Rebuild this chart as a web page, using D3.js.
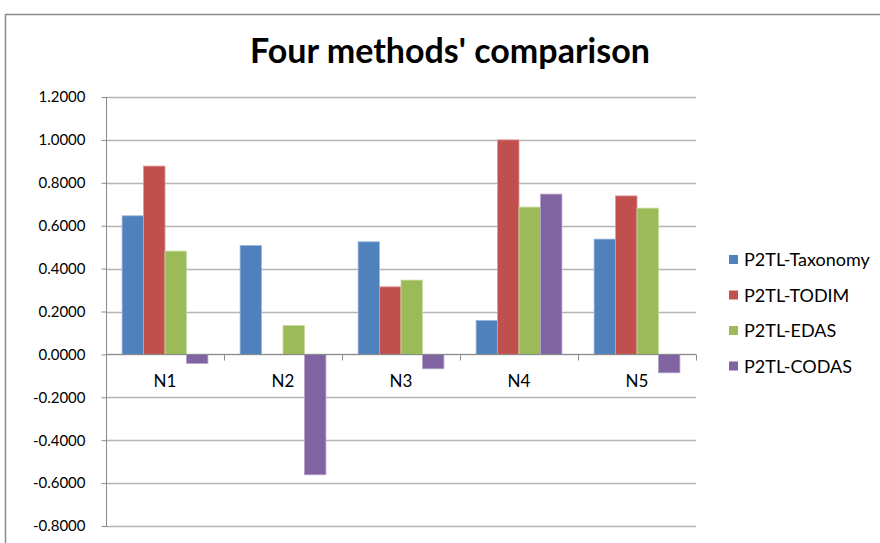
<!DOCTYPE html>
<html>
<head>
<meta charset="utf-8">
<script src="https://cdn.jsdelivr.net/npm/d3@7"></script>
<style>
  html, body { margin: 0; padding: 0; background: #fff; }
  svg { display: block; }
  text { font-family: Lato, "Open Sans", sans-serif; fill: #000; }
</style>
</head>
<body>
<script>
// Categories and series
const categories = ["N1", "N2", "N3", "N4", "N5"];
const seriesNames = ["P2TL-Taxonomy", "P2TL-TODIM", "P2TL-EDAS", "P2TL-CODAS"];
const taxonomy = [0.6462, 0.5081, 0.5250, 0.1585, 0.5375];
const todim    = [0.8780, 0.0000, 0.3150, 1.0000, 0.7390];
const edas     = [0.4816, 0.1352, 0.3464, 0.6868, 0.6820];
const codas    = [-0.0420, -0.5612, -0.0671, 0.7473, -0.0858];
const yTicks   = [-0.8, -0.6, -0.4, -0.2, 0, 0.2, 0.4, 0.6, 0.8, 1.0, 1.2];
const colors   = ["#4F81BD", "#C0504D", "#9BBB59", "#8064A2"];
const edges    = ["#9DB9DD", "#DE9A98", "#C7DBA0", "#B3A2C9"];

const seriesValues = [taxonomy, todim, edas, codas];

const W = 880, H = 543;
const plot = { left: 106, right: 696, top: 97, bottom: 526 };

const svg = d3.select("body").append("svg")
  .attr("width", W).attr("height", H);

// chart area frame
svg.append("rect")
  .attr("x", 5.5).attr("y", 14.5)
  .attr("width", W + 10).attr("height", H + 10)
  .attr("fill", "#fff").attr("stroke", "#8a8a8a").attr("stroke-width", 1.5);

svg.append("text")
  .attr("x", 450).attr("y", 63)
  .attr("text-anchor", "middle")
  .style("font-size", "34px").style("font-weight", "bold")
  .text("Four methods' comparison");

const y = d3.scaleLinear().domain([-0.8, 1.2]).range([plot.bottom, plot.top]);
const x0 = d3.scaleBand().domain(categories).range([plot.left, plot.right]).paddingInner(0).paddingOuter(0);
const bandW = x0.bandwidth();
const barW = bandW / 5.5;
const x1 = d3.scaleBand().domain(d3.range(seriesNames.length))
  .range([barW * 0.75, barW * 0.75 + barW * 4]);

// horizontal gridlines
svg.append("g").selectAll("line").data(yTicks).join("line")
  .attr("x1", plot.left).attr("x2", plot.right)
  .attr("y1", d => Math.round(y(d)) + 0.5).attr("y2", d => Math.round(y(d)) + 0.5)
  .attr("stroke", "#b4b4b4").attr("stroke-width", 1.5);

// y axis, hyphen-minus for negatives
const fmt = d3.format(".4f");
const yAxis = d3.axisLeft(y).tickValues(yTicks).tickSize(5).tickPadding(16)
  .tickFormat(d => fmt(d).replace("\u2212", "-"));
const gy = svg.append("g").attr("transform", `translate(${plot.left + 0.5},0)`).call(yAxis);
gy.select(".domain").attr("stroke", "#8a8a8a").attr("d", `M0,${plot.top}V${plot.bottom}`);
gy.selectAll(".tick line").attr("stroke", "#8a8a8a");
gy.selectAll(".tick text").style("font-size", "15px").style("font-family", "Lato, sans-serif")
  .attr("fill", "#000");

// bars
const groups = svg.append("g").selectAll("g").data(categories).join("g")
  .attr("transform", c => `translate(${x0(c)},0)`);
groups.selectAll("rect")
  .data((c, i) => seriesValues.map((vals, s) => ({ s, v: vals[i] })))
  .join("rect")
  .attr("x", d => x1(d.s))
  .attr("width", barW)
  .attr("y", d => y(Math.max(0, d.v)))
  .attr("height", d => Math.abs(y(d.v) - y(0)))
  .attr("fill", d => colors[d.s])
  .attr("stroke", d => d.v === 0 ? "none" : edges[d.s])
  .attr("stroke-width", 0.8);

// x axis at zero
const xAxisG = svg.append("g").attr("transform", `translate(0,${Math.round(y(0)) + 0.5})`);
xAxisG.append("line")
  .attr("x1", plot.left).attr("x2", plot.right)
  .attr("stroke", "#8a8a8a").attr("stroke-width", 1.2);
xAxisG.selectAll(".tk").data(d3.range(categories.length + 1)).join("line")
  .attr("class", "tk")
  .attr("x1", i => plot.left + i * bandW + 0.5).attr("x2", i => plot.left + i * bandW + 0.5)
  .attr("y1", 0).attr("y2", 6)
  .attr("stroke", "#8a8a8a");
xAxisG.selectAll("text").data(categories).join("text")
  .attr("x", c => x0(c) + bandW / 2)
  .attr("y", 32)
  .attr("text-anchor", "middle")
  .style("font-size", "17px")
  .text(c => c);

// legend
const legend = svg.append("g").attr("transform", "translate(729,253)");
const li = legend.selectAll("g").data(seriesNames).join("g")
  .attr("transform", (d, i) => `translate(0,${i * 35.5})`);
li.append("rect").attr("width", 9).attr("height", 9).attr("y", 2)
  .attr("fill", (d, i) => colors[i]);
li.append("text").attr("x", 15).attr("y", 13)
  .style("font-size", "18px").text(d => d);
</script>
</body>
</html>
